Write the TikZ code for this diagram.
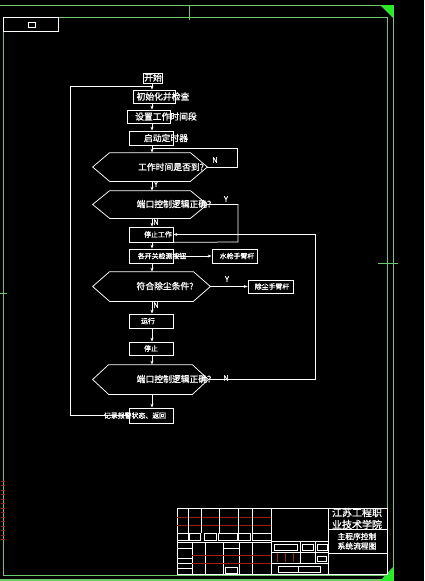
\documentclass[tikz,border=0pt]{standalone}
\usepackage{fontspec}
\newfontfamily\cjk[FakeBold=1.2]{Noto Sans CJK SC}
\usetikzlibrary{arrows.meta}
\definecolor{fgreen}{RGB}{110,200,110}
\definecolor{tgreen}{RGB}{40,235,40}
\definecolor{tred}{RGB}{165,25,25}
\newcommand\hexpath[2]{\draw[white] (#1.west) -- ([xshift=#2]#1.north west) -- ([xshift=-#2]#1.north east) -- (#1.east) -- ([xshift=-#2]#1.south east) -- ([xshift=#2]#1.south west) -- cycle;}
\begin{document}
\begin{tikzpicture}[x=1pt,y=-1pt,line width=0.75pt,
  box/.style={draw=white,inner sep=0pt,minimum width=44pt,minimum height=14pt},
  hexa/.style={inner sep=0pt,minimum width=114pt,minimum height=28pt},
  big/.style={text=white,inner sep=0pt,font=\cjk\fontsize{8.8}{9}\selectfont},
  small/.style={text=white,inner sep=0pt,font=\cjk\fontsize{6.9}{7}\selectfont},
  lab/.style={text=white,inner sep=0pt,font=\cjk\fontsize{7.5}{7.5}\selectfont},
  arr/.style={white,-{Stealth[length=4pt,width=3pt]}},
  ln/.style={white},
  tb/.style={white,line width=0.6pt},
  tr/.style={tred,line width=0.6pt}]
\fill[black] (0,0) rectangle (424,581);
\useasboundingbox (0,0) rectangle (424,581);
% ---------- frame ----------
\draw[fgreen] (0,5) -- (393,5) -- (393,581);
\draw[fgreen,line width=1.2pt] (0,580) -- (393,580);
\draw[fgreen] (48,17) -- (387,17) -- (387,575) -- (3,575) -- (3,31);
\draw[white] (3,31) -- (3,17) -- (58,17) -- (58,31) -- cycle;
\draw[white,line width=0.5pt] (28,22) rectangle (35,27);
\fill[tgreen] (380,5) -- (393,5) -- (393,18) -- cycle;
\fill[tgreen] (393,567) -- (393,581) -- (380,581) -- cycle;
\draw[fgreen,line width=0.5pt] (189,5) -- (189,20);
\draw[fgreen,line width=0.5pt] (378,263) -- (398,263);
\draw[fgreen,line width=0.5pt] (0,293) -- (7,293);
\foreach \yy in {481,485.5,...,543} \draw[tred,line width=0.9pt] (0.5,\yy) -- (4.5,\yy);
% ---------- flow chart ----------
\coordinate (fx) at (152,0);
\node[box,minimum width=19pt,minimum height=10pt] (start) at (152.5,78) {};
\node[big] (startt) at (153,77.5) {开始};
\node[box,minimum width=42pt,minimum height=13pt] (init) at (154,96.5) {};
\node[big] (initt) at (163,96.5) {初始化并检查};
\node[box,minimum width=43pt,minimum height=13pt] (set) at (148.5,116.5) {};
\node[big] (sett) at (166,116.5) {设置工作时间段};
\node[box] (timer) at (151,138) {};
\node[big] (timert) at (166,138) {启动定时器};
\node[hexa] (h1) at (150,167) {};
\hexpath{h1}{17pt}
\node[big] (h1t) at (171,167) {工作时间是否到?};
\node[hexa,minimum height=27pt] (h2) at (150,204.5) {};
\hexpath{h2}{17pt}
\node[big] (h2t) at (174,204) {端口控制逻辑正确?};
\node[box,minimum height=15pt] (stopw) at (151,234.5) {};
\node[small] (stopwt) at (158,234.5) {停止工作};
\node[box] (check) at (151,256) {};
\node[small] (checkt) at (162,256) {各开关检测按钮};
\node[box,minimum width=45pt] (water) at (234.5,256) {};
\node[small] (watert) at (237,256) {水枪手臂杆};
\node[hexa,minimum width=117pt,minimum height=29pt] (h3) at (151.5,286.5) {};
\hexpath{h3}{17pt}
\node[big] (h3t) at (165,286) {符合除尘条件?};
\node[box,minimum width=45pt,minimum height=13pt] (dust) at (270.5,286.5) {};
\node[small] (dustt) at (272,286.5) {除尘手臂杆};
\node[box] (run) at (151,321) {};
\node[small] (runt) at (148,321) {运行};
\node[box,minimum height=13pt] (stop) at (151,348.5) {};
\node[small] (stopt) at (151,348.5) {停止};
\node[hexa,minimum width=115pt,minimum height=29pt] (h4) at (150.5,379.5) {};
\hexpath{h4}{16pt}
\node[big] (h4t) at (174,379) {端口控制逻辑正确?};
\node[box,minimum height=15pt] (rec) at (151,415.5) {};
\node[small] (rect) at (135,415.5) {记录报警状态、返回};
% labels
\node[lab] (n1) at (215,160) {N};
\node[lab] (y1) at (156,184) {Y};
\node[lab] (y2) at (226,199) {Y};
\node[lab] (n2) at (156,222) {N};
\node[lab] (y3) at (227,279) {Y};
\node[lab] (n3) at (156,305) {N};
\node[lab] (n4) at (226,378) {N};
% connectors
\draw[arr] (start.south -| fx) -- (init.north -| fx);
\draw[arr] (init.south -| fx) -- (set.north -| fx);
\draw[arr] (set.south -| fx) -- (timer.north -| fx);
\draw[arr] (timer.south -| fx) -- (h1.north -| fx);
\draw[arr] (h1.south -| fx) -- (h2.north -| fx);
\draw[arr] (h2.south -| fx) -- (stopw.north -| fx);
\draw[arr] (stopw.south -| fx) -- (check.north -| fx);
\draw[arr] (check.south -| fx) -- (h3.north -| fx);
\draw[arr] (h3.south -| fx) -- (run.north -| fx);
\draw[arr] (run.south -| fx) -- (stop.north -| fx);
\draw[arr] (stop.south -| fx) -- (h4.north -| fx);
\draw[arr] (h4.south -| fx) -- (rec.north -| fx);
\coordinate (j1) at (152,148);
\draw[ln] (h1.east) -- (237,167) -- (237,148) -- (j1);
\draw[ln] (h2.east) -- (238,204.5) -- (238,242) -- (stopw.south east);
\draw[arr] (h4.east) -- (315,379.5) -- (315,234.5) -- (stopw.east);
\draw[arr] (check.east) -- (water.west);
\draw[arr] (h3.east) -- (dust.west);
\coordinate (j0) at (152,86);
\draw[ln] (rec.west) -- (70,415.5) -- (70,86) -- (j0);
% ---------- title block ----------
\draw[tb] (177,508) rectangle (387,574);
\draw[tb] (271,508) -- (271,574);
\draw[tb] (328,508) -- (328,574);
\draw[tb] (328,529) -- (387,529);
\draw[tb] (328,553) -- (387,553);
\node[text=white,inner sep=0pt,font=\cjk\fontsize{10}{10}\selectfont] (tb1) at (357,512.5) {江苏工程职};
\node[text=white,inner sep=0pt,font=\cjk\fontsize{10}{10}\selectfont] (tb2) at (357,524.5) {业技术学院};
\node[text=white,inner sep=0pt,font=\cjk\fontsize{7.8}{8}\selectfont] (tb3) at (357,536.5) {主程序控制};
\node[text=white,inner sep=0pt,font=\cjk\fontsize{7.8}{8}\selectfont] (tb4) at (357,546) {系统流程图};
\draw[tr] (177,517) -- (271,517);
\draw[tr] (177,525) -- (271,525);
\foreach \xx in {188,201,219,238,252} \draw[tb] (\xx,508) -- (\xx,533);
\draw[tb] (177,533) rectangle (188,540);
\draw[tb] (189,533) rectangle (200,540);
\draw[tb] (204,533) rectangle (216,540);
\draw[tb] (218,533) rectangle (237,540);
\draw[tb] (238,533) rectangle (250,540);
\draw[tb] (252,533) rectangle (271,540);
\draw[tb] (177,542) -- (271,542);
\foreach \xx in {192,205,223,239,252} \draw[tb] (\xx,542) -- (\xx,574);
\foreach \yy in {548,558,563,568} \draw[tb] (177,\yy) -- (192,\yy);
\draw[tb] (223,542) rectangle (239,548);
\draw[tr] (192,555) -- (271,555);
\draw[tr] (192,563) -- (271,563);
\draw[tb] (225,567) rectangle (237,573);
\draw[tb] (271,541) -- (328,541);
\draw[tb] (271,552) -- (328,552);
\draw[tb] (271,563) -- (328,563);
\draw[tb] (300,541) -- (300,563);
\draw[tb] (315,541) -- (315,563);
\draw[tb] (274,544) rectangle (297,550);
\draw[tb] (302,544) rectangle (313,550);
\draw[tb] (317,544) rectangle (327,550);
\foreach \xx in {277,285,293} \draw[tr] (\xx,553) -- (\xx,562);
\draw[tb] (317,556) rectangle (326,561);
\draw[tb] (278,566) rectangle (320,572);
\draw[tb] (298,566) -- (298,572);
\end{tikzpicture}
\end{document}
